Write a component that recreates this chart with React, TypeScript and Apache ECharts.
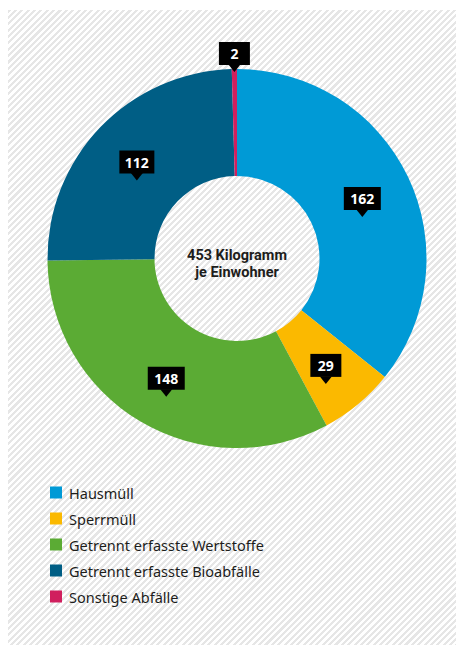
import React, { useEffect, useRef } from "react";
import * as echarts from "echarts";

const categories = [
  "Hausmüll",
  "Sperrmüll",
  "Getrennt erfasste Wertstoffe",
  "Getrennt erfasste Bioabfälle",
  "Sonstige Abfälle",
];
const values = [162, 29, 148, 112, 2];
const colors = ["#009ad6", "#fbb900", "#5bab34", "#005e85", "#d01f5e"];
const centerLines = ["453 Kilogramm", "je Einwohner"];

const CX = 229;
const CY = 248.5;
const R_OUT = 189.5;
const R_IN = 82.5;
const FONT = '"Noto Sans", sans-serif';
const CENTER_FONT = 'Roboto, "Noto Sans", sans-serif';

export default function App() {
  const ref = useRef<HTMLDivElement>(null);
  useEffect(() => {
    if (!ref.current) return;
    const chart = echarts.init(ref.current, null, { renderer: "svg" });
    const total = values.reduce((a, b) => a + b, 0);
    const starts = values.map((_, i) => values.slice(0, i).reduce((a, b) => a + b, 0));
    const textWidth = (s: string) =>
      s.split("").reduce((w, c) => w + (c === "1" ? 6 : 8), 0);

    chart.setOption({
      animation: false,
      backgroundColor: "transparent",
      legend: {
        orient: "vertical",
        left: 37,
        top: 470,
        padding: 5,
        icon: "rect",
        itemWidth: 12,
        itemHeight: 12,
        itemGap: 11,
        selectedMode: false,
        data: categories,
        textStyle: {
          fontFamily: FONT,
          fontSize: 14.5,
          color: "#1d1d1b",
          lineHeight: 14,
          padding: [0, 0, 0, 2],
        },
      },
      graphic: centerLines.map((t, i) => ({
        type: "text",
        x: CX,
        y: CY + 5 + (i - 0.5) * 17,
        silent: true,
        z: 20,
        style: {
          text: t,
          font: `bold 14.5px ${CENTER_FONT}`,
          lineHeight: 16,
          fill: "#1d1d1b",
          align: "center",
          verticalAlign: "middle",
        },
      })),
      series: [
        {
          type: "pie",
          z: 2,
          center: [CX, CY],
          radius: [R_IN, R_OUT],
          startAngle: 90,
          clockwise: true,
          silent: true,
          label: { show: false },
          labelLine: { show: false },
          itemStyle: { borderWidth: 0 },
          data: categories.map((name, i) => ({
            name,
            value: values[i],
            itemStyle: { color: colors[i] },
          })),
        },
        {
          type: "custom",
          coordinateSystem: "none",
          z: 10,
          silent: true,
          data: values.map((v, i) => [v, starts[i]]),
          renderItem: (params: any, api: any) => {
            const v = api.value(0);
            const s = api.value(1);
            const mid = ((s + v / 2) / total) * Math.PI * 2;
            const label = String(v);
            const w = Math.max(31, textWidth(label) + 15);
            const h = 23;
            const triH = 7;
            let bx: number, by: number;
            if (v / total < 0.02) {
              const r = R_OUT - 3;
              const tx = CX + r * Math.sin(mid);
              const ty = CY - r * Math.cos(mid);
              bx = tx;
              by = ty - triH - h / 2;
            } else {
              const r = (R_IN + R_OUT) / 2 + 3;
              bx = CX + r * Math.sin(mid);
              by = CY - r * Math.cos(mid);
            }
            return {
              type: "group",
              children: [
                {
                  type: "polygon",
                  z2: 10,
                  shape: {
                    points: [
                      [bx - 6, by + h / 2 - 0.5],
                      [bx + 6, by + h / 2 - 0.5],
                      [bx, by + h / 2 + triH],
                    ],
                  },
                  style: { fill: "#000" },
                },
                {
                  type: "rect",
                  z2: 10,
                  shape: { x: bx - w / 2, y: by - h / 2, width: w, height: h },
                  style: { fill: "#000" },
                },
                {
                  type: "text",
                  z2: 11,
                  x: bx,
                  y: by,
                  style: {
                    text: label,
                    fill: "#fff",
                    font: `bold 14px ${FONT}`,
                    align: "center",
                    verticalAlign: "middle",
                  },
                },
              ],
            };
          },
        },
      ],
    });
    return () => chart.dispose();
  }, []);

  return (
    <div
      ref={ref}
      style={{
        position: "fixed",
        left: 8,
        top: 10,
        width: 448,
        height: 635,
        background:
          "repeating-linear-gradient(135deg, #e6e6e6 0px, #e6e6e6 2.2px, #ffffff 2.2px, #ffffff 4.5px)",
      }}
    />
  );
}
